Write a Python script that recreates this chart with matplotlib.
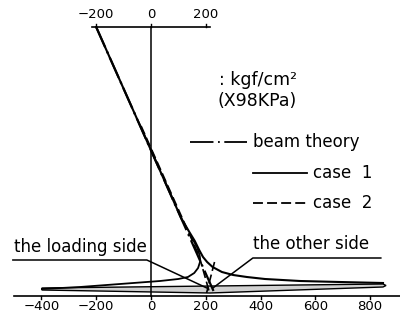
import numpy as np
import matplotlib
matplotlib.use("Agg")
import matplotlib.pyplot as plt

# stress (kgf/cm2) vs. height above the bottom edge (arbitrary units)
height_top = 269

# beam theory: straight line
beam_x = [-200, 230]
beam_y = [269, 4]

# case 1: follows beam line, then bends off toward the other side
case1_x = [-200, 110, 140, 160, 176, 190, 205, 225, 259, 300, 350, 416, 544, 690, 847]
case1_y = [269, 78, 64, 55, 46, 39, 34, 29, 24, 21, 19, 17, 15, 14, 13]

# case 1: loading side curve
load_x = [-398, -259, -113, 33, 100, 135, 158, 172, 179, 178, 170, 150]
load_y = [7, 9, 12, 15, 17, 19, 23, 28, 34, 40, 48, 58]

# case 2: dashed
case2_x = [-36, 176, 214]
case2_y = [170, 40, 3]
case2b_x = [232, 203]
case2b_y = [34, 3]

# stress along the bottom surface (thin lens)
lens_top_x = [-398, 847, 858]
lens_top_y = [8, 12, 10.5]
lens_bot_x = [858, 847, 215, -398]
lens_bot_y = [10.5, 9, 3, 6]

bottom_ticks = [-400, -200, 0, 200, 400, 600, 800]
top_ticks = [-200, 0, 200]

plt.rcParams['font.family'] = ['DejaVu Sans']

fig = plt.figure(figsize=(4, 3.2), dpi=100)
ax = fig.add_axes([0, 0, 1, 1])
ax.set_xlim(-551, 909)
ax.set_ylim(-24, 296)
ax.axis('off')

k = 'black'
fs = 12
# axes
ax.plot([-500, 909], [0, 0], color=k, lw=1.2)
ax.plot([0, 0], [0, height_top], color=k, lw=1.1)
ax.plot([-215, 215], [height_top, height_top], color=k, lw=1.2)
for t in bottom_ticks:
    ax.plot([t, t], [0, -3], color=k, lw=1)
    ax.text(t, -11, str(t).replace('-', '\u2212'), ha='center', va='center', fontsize=9.5)
for t in top_ticks:
    ax.plot([t, t], [height_top, height_top + 3], color=k, lw=1)
    ax.text(t, 282, str(t).replace('-', '\u2212'), ha='center', va='center', fontsize=9.5)

# lens at bottom
lx = lens_top_x + lens_bot_x
ly = lens_top_y + lens_bot_y
ax.fill(lx, ly, facecolor='0.82', edgecolor=k, lw=1)

# curves
ax.plot(beam_x, beam_y, color=k, lw=1.6, dashes=(10, 2, 1, 2))
ax.plot(case1_x, case1_y, color=k, lw=1.5)
ax.plot(load_x, load_y, color=k, lw=1.3)
ax.plot(case2_x, case2_y, color=k, lw=1.2, dashes=(5.5, 2.3))
ax.plot(case2b_x, case2b_y, color=k, lw=1.2, dashes=(5.5, 2.3))

# units
ax.text(250, 216, ': kgf/cm\u00b2', fontsize=12.5, va='center', ha='left')
ax.text(243, 195, '(X98KPa)', fontsize=12.5, va='center', ha='left')

# legend
ax.plot([142, 350], [154, 154], color=k, lw=1.3, dashes=(13, 2.5, 1, 2.5))
ax.text(372, 154, 'beam theory', fontsize=fs, va='center', ha='left')
ax.plot([372, 569], [123, 123], color=k, lw=1.3)
ax.text(591, 123, 'case  1', fontsize=fs, va='center', ha='left')
ax.plot([372, 569], [93, 93], color=k, lw=1.3, dashes=(5.5, 2.3))
ax.text(591, 93, 'case  2', fontsize=fs, va='center', ha='left')

# side labels with leader lines
ax.text(-500, 49, 'the loading side', fontsize=fs, va='center', ha='left')
ax.plot([-504, -15, 204], [36, 36, 8], color=k, lw=1.1)
ax.text(372, 52, 'the other side', fontsize=fs, va='center', ha='left')
ax.plot([839, 372, 226], [38, 38, 8], color=k, lw=1.1)

fig.savefig('out.png', dpi=100)
